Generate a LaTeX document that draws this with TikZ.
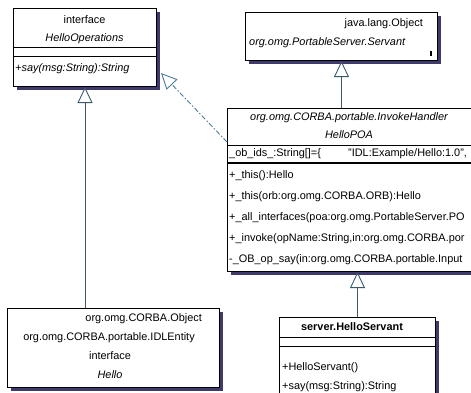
\documentclass[tikz,border=0pt]{standalone}
\usepackage{fontspec}
\setmainfont{Liberation Sans}
\usetikzlibrary{arrows.meta,shadows,calc}

\definecolor{shadowblue}{HTML}{3E3A6B}
\definecolor{linkblue}{HTML}{3D5A6C}
\definecolor{dashblue}{HTML}{4A7F9A}

\newcommand{\umlfont}{\fontsize{10.9}{12}\selectfont}

\tikzset{
  classbox/.style={rectangle, draw=black, line width=1pt, fill=white,
    inner sep=0pt, anchor=north west,
    general shadow={fill=shadowblue, shadow xshift=3pt, shadow yshift=-3pt}},
  member/.style={inner sep=0pt, text height=8pt, text depth=2.5pt, font=\umlfont},
  imember/.style={member, font=\umlfont\itshape},
  bmember/.style={member, font=\umlfont\bfseries},
  divider/.style={black, line width=1pt},
  inherit/.style={draw=linkblue, line width=0.9pt,
    -{Triangle[open, length=16pt, width=15pt, line width=0.9pt]}},
  realize/.style={inherit, draw=dashblue,
    dash pattern=on 5pt off 2pt on 1.5pt off 2pt},
}

\begin{document}
\begin{tikzpicture}[x=1pt, y=-1pt]
  % Canvas
  \clip (0,0) rectangle (471,392);
  \fill[white] (0,0) rectangle (471,392);

  % Class boxes
  \node[classbox, minimum width=143pt, minimum height=78pt] (ops) at (13,8) {};
  \node[classbox, minimum width=192pt, minimum height=48pt] (servantbase) at (245,12) {};
  \node[classbox, minimum width=250pt, minimum height=163pt] (poa) at (227,108) {};
  \node[classbox, minimum width=212pt, minimum height=79pt] (hello) at (7,308) {};
  \node[classbox, minimum width=156pt, minimum height=90pt] (servant) at (279,317) {};

  % Compartment lines
  \draw[divider] (13,47) -- (156,47);
  \draw[divider] (13,56) -- (156,56);
  \draw[divider] (227,145) -- (471,145);
  \draw[divider, line width=1.4pt] (227,163) -- (471,163);
  \draw[divider] (279,337) -- (435,337);
  \draw[divider] (279,346) -- (435,346);

  % HelloOperations
  \node[member] (opsstereo) at (84.5,21) {interface};
  \node[imember] (opsname) at (84.5,39) {HelloOperations};
  \node[imember, anchor=west] (opssay) at (15,69) {+say(msg:String):String};

  % Servant base class
  \node[member, anchor=east] (baseobj) at (423,24) {java.lang.Object};
  \node[imember, anchor=west] (basename) at (249,43) {org.omg.PortableServer.Servant};
  \fill (430,51) rectangle (432,56);

  % HelloPOA
  \node[imember] (poastereo) at (349,118) {org.omg.CORBA.portable.InvokeHandler};
  \node[imember] (poaname) at (349,136) {HelloPOA};
  \node[member, anchor=west] (poaids) at (229,154) {\_ob\_ids\_:String[]=\{};
  \node[member, anchor=west] (poaidval) at (348,154) {"IDL:Example/Hello:1.0",};
  \foreach \txt [count=\i] in {{+\_this():Hello},
      {+\_this(orb:org.omg.CORBA.ORB):Hello},
      {+\_all\_interfaces(poa:org.omg.PortableServer.PO},
      {+\_invoke(opName:String,in:org.omg.CORBA.por},
      {-\_OB\_op\_say(in:org.omg.CORBA.portable.Input}} {
    \node[member, anchor=west] (poaop\i) at (229,155+21*\i) {\txt};
  }

  % Hello
  \node[member, anchor=east] (helloobj) at (202,319) {org.omg.CORBA.Object};
  \node[member] (helloentity) at (109,338) {org.omg.CORBA.portable.IDLEntity};
  \node[member] (hellostereo) at (110,357) {interface};
  \node[imember] (helloname) at (110,376) {Hello};

  % HelloServant
  \node[bmember] (servantname) at (352,328) {server.HelloServant};
  \node[member, anchor=west] (servantctor) at (282,368) {+HelloServant()};
  \node[member, anchor=west] (servantsay) at (282,387) {+say(msg:String):String};

  % Generalisations
  \draw[inherit] (hello.north -| ops.south) -- (ops.south);
  \draw[inherit] (poa.north -| servantbase.south) -- (servantbase.south);
  \draw[inherit] (servant.north) -- (servant.north |- poa.south);

  % Realisation
  \coordinate (realizetip) at ($(ops.north east)+(4,65)$);
  \draw[realize] ($(poa.north west)+(0,34)$) -- (realizetip);
\end{tikzpicture}
\end{document}
